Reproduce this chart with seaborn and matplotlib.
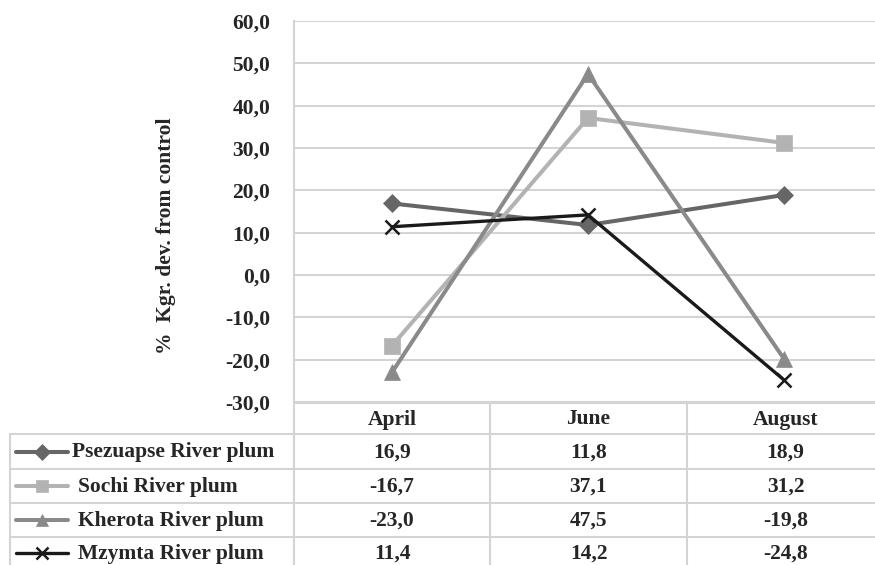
import pandas as pd
import matplotlib.pyplot as plt
import seaborn as sns
from matplotlib.lines import Line2D

# --- data ---
months = ["April", "June", "August"]
series_names = ["Psezuapse River plum", "Sochi River plum",
                "Kherota River plum", "Mzymta River plum"]
psezuapse = [16.9, 11.8, 18.9]
sochi = [-16.7, 37.1, 31.2]
kherota = [-23.0, 47.5, -19.8]
mzymta = [11.4, 14.2, -24.8]
y_ticks = [-30, -20, -10, 0, 10, 20, 30, 40, 50, 60]

colors = ["#666666", "#b3b3b3", "#8a8a8a", "#1a1a1a"]
markers = ["D", "s", "^", "x"]
msizes = [9, 11, 11, 10]
lwidths = [2.9, 2.9, 2.9, 2.4]

def fmt(v):
    return f"{v:.1f}".replace(".", ",")

df = pd.DataFrame({
    "month": months * 4,
    "value": psezuapse + sochi + kherota + mzymta,
    "series": [s for s in series_names for _ in months],
})

sns.set_style("white")
plt.rcParams["font.family"] = ["Liberation Serif", "DejaVu Serif"]
plt.rcParams["font.weight"] = "bold"
FS = 15.5

W, H = 875, 565
fig = plt.figure(figsize=(W / 100, H / 100), dpi=100)

# table layer in pixel coords
tab = fig.add_axes([0, 0, 1, 1])
tab.set_xlim(0, W)
tab.set_ylim(H, 0)
tab.axis("off")

ax = fig.add_axes([294 / W, 1 - 402 / H, (W - 294) / W, (402 - 21) / H])
ax.patch.set_alpha(0)

for name, c, m, ms, lw in zip(series_names, colors, markers, msizes, lwidths):
    sub = df[df["series"] == name]
    sns.lineplot(data=sub, x="month", y="value", ax=ax, color=c, marker=m,
                 markersize=ms, linewidth=lw, markeredgecolor=c,
                 markeredgewidth=1.8 if m == "x" else 0.5, sort=False,
                 legend=False)

ax.set_xlim(-0.5, 2.5 - 7 / 196)
ax.set_ylim(-30, 60)
ax.set_yticks(y_ticks)
ax.set_yticklabels([fmt(t) for t in y_ticks], fontsize=FS, fontweight="bold")
ax.tick_params(axis="y", length=0, pad=17)
ax.set_xticks([])
ax.set_xlabel("")
ax.set_ylabel("%  Kgr. dev. from control", fontsize=FS, fontweight="bold")
ax.yaxis.set_label_coords(-(294 - 176) / (W - 294), (402 - 236) / (402 - 21))
ax.grid(axis="y", color="#d4d4d4", linewidth=1.5)
for s in ["top", "right", "bottom"]:
    ax.spines[s].set_visible(False)
ax.spines["left"].set_color("#d4d4d4")
ax.spines["left"].set_linewidth(1.5)

# --- data table ---
gcol = "#d4d4d4"
col_x = [294, 490, 687, 884]
row_y = [403, 434, 469, 503, 537, 571]
tab.plot([294, W], [row_y[0]] * 2, color=gcol, lw=1.5)
for y in row_y[1:]:
    tab.plot([10, W], [y, y], color=gcol, lw=1.5)
tab.plot([10, 10], [row_y[1], H], color=gcol, lw=1.5)
for x in col_x:
    tab.plot([x, x], [row_y[0], H], color=gcol, lw=1.5)

for i, mth in enumerate(months):
    cx = (col_x[i] + col_x[i + 1]) / 2
    tab.text(cx, (row_y[0] + row_y[1]) / 2 + 1, mth, ha="center", va="center",
             fontsize=FS, fontweight="bold")

values = [psezuapse, sochi, kherota, mzymta]
for r, (name, vals, c, m, ms, lw) in enumerate(zip(series_names, values, colors,
                                                    markers, msizes, lwidths)):
    cy = (row_y[r + 1] + row_y[r + 2]) / 2
    if r == 3:
        cy = row_y[4] + 16
    tab.add_line(Line2D([16, 68], [cy, cy], color=c, lw=lw))
    tab.add_line(Line2D([42], [cy], color=c, marker=m, markersize=ms * 0.85,
                        markeredgecolor=c,
                        markeredgewidth=1.8 if m == "x" else 0.5))
    tab.text(72 if r == 0 else 78, cy + 1, name, ha="left", va="center",
             fontsize=FS, fontweight="bold")
    for i, v in enumerate(vals):
        cx = (col_x[i] + col_x[i + 1]) / 2
        tab.text(cx, cy + 1, fmt(v), ha="center", va="center",
                 fontsize=FS, fontweight="bold")

fig.savefig("out.png", dpi=100)
